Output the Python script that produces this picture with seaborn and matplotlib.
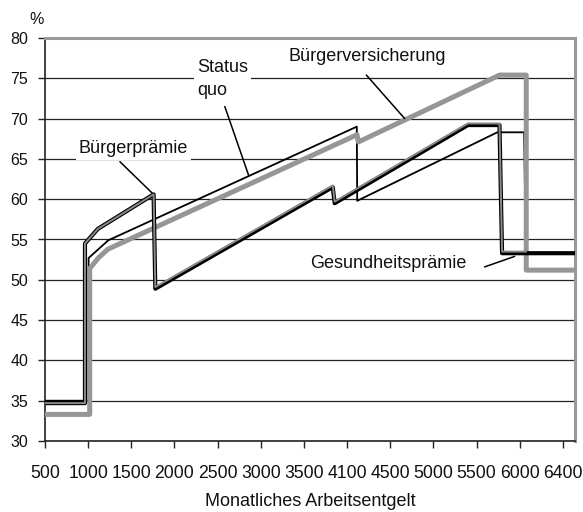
import matplotlib
matplotlib.use('Agg')
import matplotlib.pyplot as plt
import seaborn as sns
import pandas as pd

sns.set_theme(style='white')
plt.rcParams['font.family'] = ['Liberation Sans', 'DejaVu Sans']

# ---- data -------------------------------------------------------------
x_ticks = [500, 1000, 1500, 2000, 2500, 3000, 3500, 4000, 4500, 5000, 5500, 6000, 6500]
x_tick_labels = ['500', '1000', '1500', '2000', '2500', '3000', '3500', '4100',
                 '4500', '5000', '5500', '6000', '6400']
y_ticks = [30, 35, 40, 45, 50, 55, 60, 65, 70, 75, 80]

status_x = [500, 1005, 1005, 1233, 4112, 4117, 5740, 6050, 6075, 6640]
status_y = [35.0, 35.0, 52.7, 54.9, 69.0, 59.8, 68.3, 68.3, 51.2, 51.2]

bv_x = [500, 1018, 1018, 1117, 1229, 4115, 4130, 5766, 6075, 6075, 6640]
bv_y = [33.3, 33.3, 51.4, 52.7, 53.8, 68.0, 67.1, 75.4, 75.4, 51.2, 51.2]

gp_x = [500, 963, 963, 1110, 1758, 1778, 3833, 3856, 5400, 5765, 5795, 6640]
gp_y = [34.7, 34.7, 54.5, 56.3, 60.6, 48.9, 61.5, 59.5, 69.2, 69.2, 53.3, 53.3]

bp_x = [500, 963, 963, 1110, 1758, 1778, 3833, 3856, 5400, 5765, 5795, 6075]
bp_y = [34.7, 34.7, 54.5, 56.3, 60.6, 49.1, 61.7, 59.7, 69.4, 69.4, 53.5, 53.5]

# ---- figure -----------------------------------------------------------
fig = plt.figure(figsize=(5.83, 5.12), dpi=100)
ax = fig.add_axes([45/583, 71/512, 530/583, 403/512])

ax.set_xlim(500, 6640)
ax.set_ylim(30, 80)

sns.lineplot(x=status_x, y=status_y, sort=False, estimator=None, ax=ax,
             color='black', lw=1.3, zorder=3)
sns.lineplot(x=bv_x, y=bv_y, sort=False, estimator=None, ax=ax,
             color='#969696', lw=3.6, zorder=4)
sns.lineplot(x=gp_x, y=gp_y, sort=False, estimator=None, ax=ax,
             color='black', lw=3.0, zorder=5)
sns.lineplot(x=bp_x, y=bp_y, sort=False, estimator=None, ax=ax,
             color='#8a8a8a', lw=1.4, zorder=6)

# grid and axes
ax.set_yticks(y_ticks)
ax.set_xticks(x_ticks)
ax.set_xticklabels(x_tick_labels)
ax.yaxis.grid(True, color='#222222', lw=0.9)
ax.xaxis.grid(False)
ax.set_axisbelow(True)

for side in ['top', 'right']:
    ax.spines[side].set_color('#999999')
    ax.spines[side].set_linewidth(2.2)
for side in ['left', 'bottom']:
    ax.spines[side].set_color('#222222')
    ax.spines[side].set_linewidth(1.2)

ax.tick_params(axis='y', which='major', left=True, direction='out', length=5,
               width=1, color='#222222', labelsize=11.5, pad=7, labelcolor='#111111')
ax.tick_params(axis='x', which='major', bottom=True, direction='out', length=5,
               width=1, color='#222222', labelsize=12.7, pad=12, labelcolor='#111111')

ax.set_xlabel('Monatliches Arbeitsentgelt', fontsize=13, labelpad=8, color='#111111')
ax.set_ylabel('')
ax.text(-0.015, 1.045, '%', transform=ax.transAxes, fontsize=11.5,
        ha='center', va='center', color='#111111')

# annotations
box = dict(facecolor='white', edgecolor='none', pad=2)
ax.text(2259, 74.9, 'Status\nquo', fontsize=13, ha='left', va='center',
        linespacing=1.45, color='#111111', bbox=box, zorder=7)
ax.text(4238, 77.7, 'Bürgerversicherung', fontsize=13, ha='center', va='center',
        color='#111111', bbox=box, zorder=7)
ax.text(1524, 66.3, 'Bürgerprämie', fontsize=13, ha='center', va='center',
        color='#111111', bbox=box, zorder=7)
ax.text(4481, 52.05, 'Gesundheitsprämie', fontsize=13, ha='center', va='center',
        color='#111111', bbox=box, zorder=7)

leaders = [((2583, 71.5), (2861, 62.9)),
           ((4223, 75.4), (4667, 70.0)),
           ((1368, 64.65), (1738, 60.8)),
           ((5593, 51.6), (5940, 52.9))]
for start, end in leaders:
    ax.annotate('', xy=end, xytext=start,
                arrowprops=dict(arrowstyle='-', color='black', lw=1.1,
                                shrinkA=0, shrinkB=0), zorder=8)

fig.savefig('out.png', dpi=100)
